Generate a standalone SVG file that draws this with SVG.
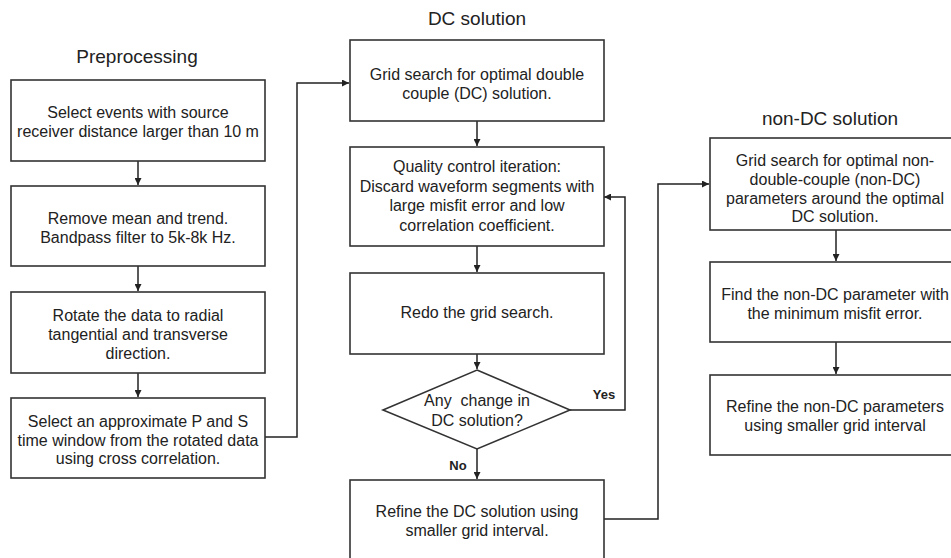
<svg xmlns="http://www.w3.org/2000/svg" width="951" height="558" viewBox="0 0 951 558">
<style>
.box{fill:#fff;stroke:#333;stroke-width:1.6}
.t{font-family:"Liberation Sans",Arial,sans-serif;font-size:16px;fill:#222;text-anchor:middle}
.h{font-family:"Liberation Sans",Arial,sans-serif;font-size:19px;fill:#222;text-anchor:middle}
.lb{font-family:"Liberation Sans",Arial,sans-serif;font-size:13px;font-weight:bold;fill:#222;text-anchor:middle}
.c{fill:none;stroke:#222;stroke-width:1.5}
</style>
<defs>
<marker id="a" viewBox="0 0 10 10" refX="10" refY="5" markerWidth="7" markerHeight="7" markerUnits="userSpaceOnUse" orient="auto">
<path d="M0,0L10,5L0,10z" fill="#222"/>
</marker>
</defs>
<rect width="951" height="558" fill="#fff"/>
<text class="h" x="137" y="63">Preprocessing</text>
<text class="h" x="477" y="25">DC solution</text>
<text class="h" x="830" y="125">non-DC solution</text>

<g id="connectors">
<path class="c" d="M138,161V185" marker-end="url(#a)"/>
<path class="c" d="M138,266V291" marker-end="url(#a)"/>
<path class="c" d="M138,373V397" marker-end="url(#a)"/>
<path class="c" d="M265,437H297V83H349" marker-end="url(#a)"/>
<path class="c" d="M477,121V146" marker-end="url(#a)"/>
<path class="c" d="M477,246V272" marker-end="url(#a)"/>
<path class="c" d="M477,354V369" marker-end="url(#a)"/>
<path class="c" d="M570,410H625V197H604" marker-end="url(#a)"/>
<path class="c" d="M477,449V479" marker-end="url(#a)"/>
<path class="c" d="M604,519H658V184H709" marker-end="url(#a)"/>
<path class="c" d="M836,230V261" marker-end="url(#a)"/>
<path class="c" d="M836,342V374" marker-end="url(#a)"/>
<text class="lb" x="604" y="399">Yes</text>
<text class="lb" x="458" y="470">No</text>
</g>

<g id="p1">
<rect class="box" x="11" y="80" width="254" height="81"/>
<text class="t" x="138" y="118">Select events with source</text>
<text class="t" x="138" y="137">receiver distance larger than 10 m</text>
</g>
<g id="p2">
<rect class="box" x="11" y="186" width="254" height="80"/>
<text class="t" x="138" y="224">Remove mean and trend.</text>
<text class="t" x="138" y="243">Bandpass filter to 5k-8k Hz.</text>
</g>
<g id="p3">
<rect class="box" x="11" y="292" width="254" height="81"/>
<text class="t" x="138" y="321">Rotate the data to radial</text>
<text class="t" x="138" y="340">tangential and transverse</text>
<text class="t" x="138" y="359">direction.</text>
</g>
<g id="p4">
<rect class="box" x="11" y="398" width="254" height="80"/>
<text class="t" x="138" y="427">Select an approximate P and S</text>
<text class="t" x="138" y="445.5">time window from the rotated data</text>
<text class="t" x="138" y="464">using cross correlation.</text>
</g>

<g id="d1">
<rect class="box" x="350" y="40" width="254" height="81"/>
<text class="t" x="477" y="80">Grid search for optimal double</text>
<text class="t" x="477" y="99">couple (DC) solution.</text>
</g>
<g id="d2">
<rect class="box" x="350" y="147" width="254" height="99"/>
<text class="t" x="477" y="172">Quality control iteration:</text>
<text class="t" x="477" y="191.5">Discard waveform segments with</text>
<text class="t" x="477" y="211">large misfit error and low</text>
<text class="t" x="477" y="230.5">correlation coefficient.</text>
</g>
<g id="d3">
<rect class="box" x="350" y="273" width="254" height="81"/>
<text class="t" x="477" y="318">Redo the grid search.</text>
</g>
<g id="d4">
<path class="box" d="M477,370L570,410L477,449L383,410Z"/>
<text class="t" x="477" y="406" style="white-space:pre">Any  change in</text>
<text class="t" x="477" y="426">DC solution?</text>
</g>
<g id="d5">
<rect class="box" x="350" y="480" width="254" height="90"/>
<text class="t" x="477" y="516.5">Refine the DC solution using</text>
<text class="t" x="477" y="536">smaller grid interval.</text>
</g>

<g id="n1">
<rect class="box" x="710" y="138" width="252" height="92"/>
<text class="t" x="835" y="166">Grid search for optimal non-</text>
<text class="t" x="835" y="185">double-couple (non-DC)</text>
<text class="t" x="835" y="204">parameters around the optimal</text>
<text class="t" x="835" y="222">DC solution.</text>
</g>
<g id="n2">
<rect class="box" x="710" y="262" width="252" height="80"/>
<text class="t" x="835" y="300">Find the non-DC parameter with</text>
<text class="t" x="835" y="319">the minimum misfit error.</text>
</g>
<g id="n3">
<rect class="box" x="710" y="375" width="252" height="80"/>
<text class="t" x="835" y="412">Refine the non-DC parameters</text>
<text class="t" x="835" y="431">using smaller grid interval</text>
</g>
</svg>
